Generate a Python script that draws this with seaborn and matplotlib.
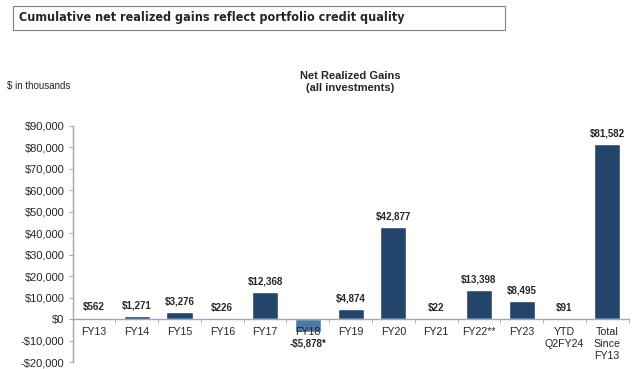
import matplotlib
matplotlib.use("Agg")
import matplotlib.pyplot as plt
import matplotlib.ticker as mticker
from matplotlib.patches import Rectangle
import numpy as np
import pandas as pd
import seaborn as sns

# data ($ in thousands)
categories = ["FY13", "FY14", "FY15", "FY16", "FY17", "FY18", "FY19",
              "FY20", "FY21", "FY22**", "FY23", "YTD\nQ2FY24", "Total\nSince\nFY13"]
gains = [562, 1271, 3276, 226, 12368, -5878, 4874,
         42877, 22, 13398, 8495, 91, 81582]
value_labels = ["$562", "$1,271", "$3,276", "$226", "$12,368", "-$5,878*", "$4,874",
                "$42,877", "$22", "$13,398", "$8,495", "$91", "$81,582"]

navy = "#23456b"
light = "#4d79a4"
spine_col = "#a3a3bb"

sns.set_style("white")
plt.rcParams["font.family"] = ["Liberation Sans", "DejaVu Sans"]

df = pd.DataFrame({"cat": categories, "val": gains})
colors = [light if v < 0 else navy for v in gains]

fig = plt.figure(figsize=(6.4, 3.69), dpi=100)
W, H = 640, 369
ax = fig.add_axes([72.6 / W, 1 - 362 / H, (628.6 - 72.6) / W, (362 - 125.7) / H])

sns.barplot(data=df, x="cat", y="val", hue="cat", palette=colors,
            legend=False, width=0.61, saturation=1, ax=ax)
ax.set_axisbelow(False)

ax.set_ylim(-20000, 90000)
ax.set_xlim(-0.5, len(categories) - 0.5)
ax.yaxis.set_major_locator(mticker.MultipleLocator(10000))
ax.yaxis.set_major_formatter(mticker.FuncFormatter(
    lambda v, p: f"-${abs(v):,.0f}" if v < 0 else f"${v:,.0f}"))
ax.set_xlabel("")
ax.set_ylabel("")

for s in ["top", "right"]:
    ax.spines[s].set_visible(False)
ax.spines["left"].set_color(spine_col)
ax.spines["bottom"].set_color(spine_col)
ax.spines["bottom"].set_position(("data", 0))
ax.spines["left"].set_linewidth(1.0)
ax.spines["bottom"].set_linewidth(1.0)

ax.tick_params(axis="y", left=True, length=3, color=spine_col, labelsize=8, pad=3)
ax.tick_params(axis="x", which="major", length=0, labelsize=7.7, pad=6)
ax.set_xticks(np.arange(-0.5, len(categories), 1), minor=True)
ax.tick_params(axis="x", which="minor", bottom=True, length=3, color=spine_col)
for lab in ax.get_xticklabels():
    lab.set_verticalalignment("top")
    lab.set_linespacing(1.25)

for i, (v, t) in enumerate(zip(gains, value_labels)):
    if v >= 0:
        ax.annotate(t, (i, v), xytext=(0, 4), textcoords="offset points",
                    ha="center", va="bottom", fontsize=7, fontweight="bold")
    else:
        ax.annotate(t, (i, 0), xytext=(0, -14), textcoords="offset points",
                    ha="center", va="top", fontsize=7, fontweight="bold")

# header box and titles
fig.patches.append(Rectangle((13 / W, 1 - 30 / H), (505 - 13) / W, 24 / H,
                             transform=fig.transFigure, fill=False,
                             edgecolor="#808080", linewidth=0.8))
fig.text(19 / W, 1 - 18 / H, "Cumulative net realized gains reflect portfolio credit quality",
         fontsize=9, fontweight="bold", va="center", ha="left",
         family=["DejaVu Sans"], fontstretch="condensed")
fig.text(350 / W, 1 - 82 / H, "Net Realized Gains\n(all investments)",
         fontsize=8, fontweight="bold", ha="center", va="center", linespacing=1.2)
fig.text(7 / W, 1 - 86 / H, "$ in thousands", fontsize=7, ha="left", va="center")

fig.savefig("out.png", dpi=100)
